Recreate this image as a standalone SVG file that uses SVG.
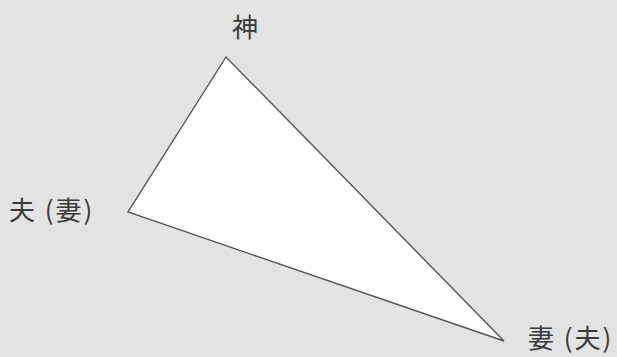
<svg xmlns="http://www.w3.org/2000/svg" width="617" height="357" viewBox="0 0 617 357">
<style>
.lbl{font-family:"Noto Sans CJK JP","Noto Sans CJK SC",sans-serif;font-size:26px;fill:#3a3a3a;}
.sp{letter-spacing:2px;}
.tri{fill:#ffffff;stroke:#555555;stroke-width:1.4;stroke-linejoin:miter;}
</style>
<rect width="617" height="357" fill="#e3e3e3"/>
<g id="triangle">
<polygon class="tri" points="226,57 128,212 504,341"/>
</g>
<g id="god"><text class="lbl" x="245" y="37" text-anchor="middle">神</text></g>
<g id="husband"><text class="lbl sp" x="9" y="220">夫 (妻)</text></g>
<g id="wife"><text class="lbl sp" x="528" y="348">妻 (夫)</text></g>
</svg>
